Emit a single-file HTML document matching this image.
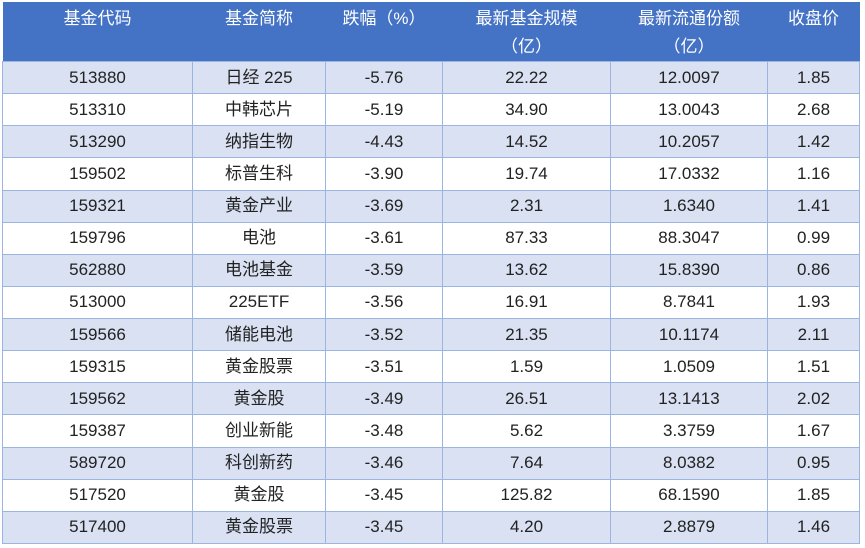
<!DOCTYPE html>
<html><head><meta charset="utf-8"><style>
body{margin:0;background:#fff;width:865px;height:548px;overflow:hidden}
table{position:absolute;left:2px;top:2px;border-collapse:collapse;table-layout:fixed;font-family:"Liberation Sans","Noto Sans CJK SC",sans-serif;color:#222}
td,th{padding:0;text-align:center;font-size:17px;height:32.13px;border:1px solid #9BB4E0;box-sizing:border-box;line-height:20px;vertical-align:middle}
th{background:#4472C4;color:#fff;font-weight:normal;font-size:17px;height:59px;vertical-align:top;line-height:28px;padding-top:3px;border:none}
tr:nth-child(even) td{background:#D9E1F2}
tr:nth-child(odd) td{background:#fff}
</style></head><body>
<table>
<colgroup><col style="width:190px"><col style="width:133px"><col style="width:117px"><col style="width:168px"><col style="width:157px"><col style="width:92px"></colgroup>
<tr><th>基金代码</th><th>基金简称</th><th>跌幅（%）</th><th>最新基金规模<br>（亿）</th><th>最新流通份额<br>（亿）</th><th>收盘价</th></tr>
<tr><td>513880</td><td>日经 225</td><td>-5.76</td><td>22.22</td><td>12.0097</td><td>1.85</td></tr>
<tr><td>513310</td><td>中韩芯片</td><td>-5.19</td><td>34.90</td><td>13.0043</td><td>2.68</td></tr>
<tr><td>513290</td><td>纳指生物</td><td>-4.43</td><td>14.52</td><td>10.2057</td><td>1.42</td></tr>
<tr><td>159502</td><td>标普生科</td><td>-3.90</td><td>19.74</td><td>17.0332</td><td>1.16</td></tr>
<tr><td>159321</td><td>黄金产业</td><td>-3.69</td><td>2.31</td><td>1.6340</td><td>1.41</td></tr>
<tr><td>159796</td><td>电池</td><td>-3.61</td><td>87.33</td><td>88.3047</td><td>0.99</td></tr>
<tr><td>562880</td><td>电池基金</td><td>-3.59</td><td>13.62</td><td>15.8390</td><td>0.86</td></tr>
<tr><td>513000</td><td>225ETF</td><td>-3.56</td><td>16.91</td><td>8.7841</td><td>1.93</td></tr>
<tr><td>159566</td><td>储能电池</td><td>-3.52</td><td>21.35</td><td>10.1174</td><td>2.11</td></tr>
<tr><td>159315</td><td>黄金股票</td><td>-3.51</td><td>1.59</td><td>1.0509</td><td>1.51</td></tr>
<tr><td>159562</td><td>黄金股</td><td>-3.49</td><td>26.51</td><td>13.1413</td><td>2.02</td></tr>
<tr><td>159387</td><td>创业新能</td><td>-3.48</td><td>5.62</td><td>3.3759</td><td>1.67</td></tr>
<tr><td>589720</td><td>科创新药</td><td>-3.46</td><td>7.64</td><td>8.0382</td><td>0.95</td></tr>
<tr><td>517520</td><td>黄金股</td><td>-3.45</td><td>125.82</td><td>68.1590</td><td>1.85</td></tr>
<tr><td>517400</td><td>黄金股票</td><td>-3.45</td><td>4.20</td><td>2.8879</td><td>1.46</td></tr>
</table>
</body></html>
